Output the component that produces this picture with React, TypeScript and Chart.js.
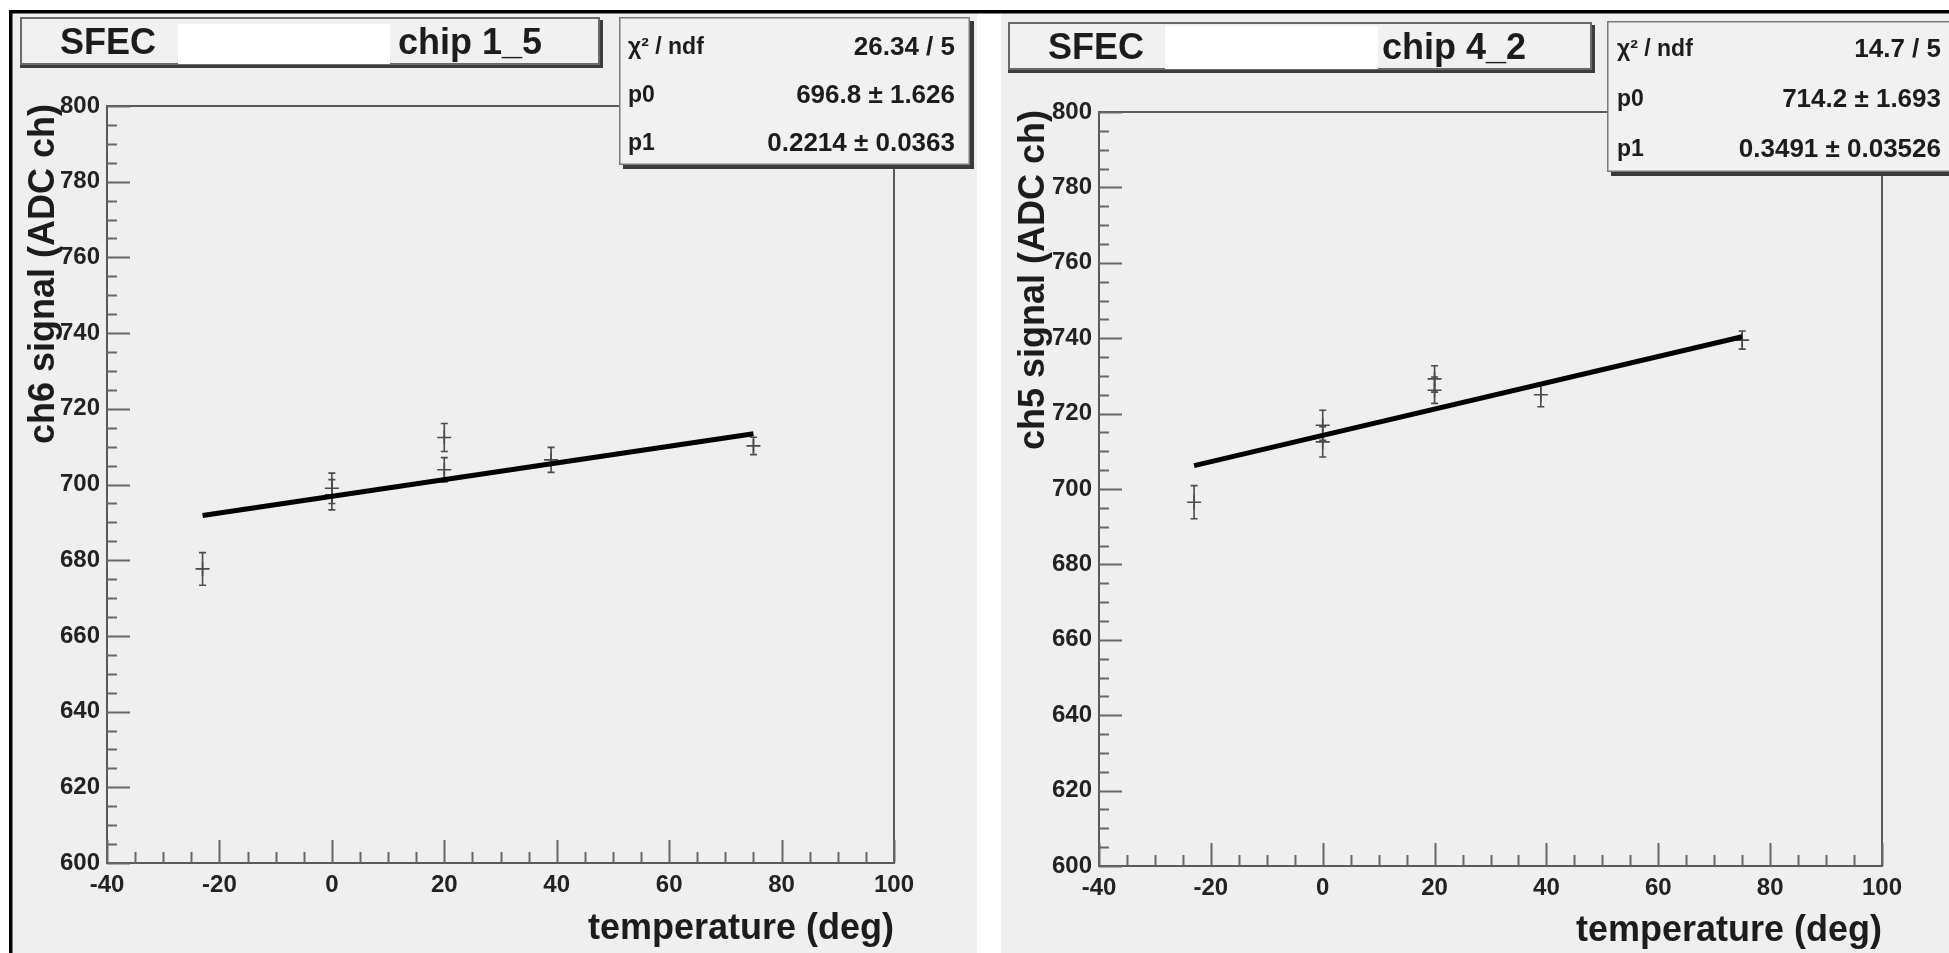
import React, { useEffect, useRef } from 'react';
import { Chart, registerables } from 'chart.js';

Chart.register(...registerables);

const FONT = "'Liberation Sans', Arial, Helvetica, sans-serif";
const H = 953;

// ---------- data ----------
const statLabels = ['χ² / ndf', 'p0', 'p1'];
const xTickValues = [-40, -20, 0, 20, 40, 60, 80, 100];
const yTickValues = [600, 620, 640, 660, 680, 700, 720, 740, 760, 780, 800];
const xMinorStep = 5;
const yMinorStep = 5;

// chip 1_5 (ch6)
const temps15 = [-23, 0, 0, 20, 20, 39, 75];
const signal15 = [677.7, 699.0, 697.3, 712.4, 703.9, 706.5, 710.2];
const sigErr15 = [4.3, 4.0, 4.0, 3.7, 3.2, 3.3, 2.3];
const fitT15 = [-23, 75];
const fitS15 = [691.8, 713.4];
const stats15 = ['26.34 / 5', '696.8 ± 1.626', '0.2214 ± 0.0363'];

// chip 4_2 (ch5)
const temps42 = [-23, 0, 0, 20, 20, 39, 75];
const signal42 = [696.5, 716.9, 712.5, 729.2, 726.2, 725.0, 739.5];
const sigErr42 = [4.4, 4.0, 4.0, 3.5, 3.5, 3.2, 2.4];
const fitT42 = [-23, 75];
const fitS42 = [706.2, 740.4];
const stats42 = ['14.7 / 5', '714.2 ± 1.693', '0.3491 ± 0.03526'];

// ---------- panel geometry / style ----------
const PANEL_BG = '#efefef';
const PLOT_BG = '#efefef';
const BOX_BG = '#f1f1f1';
const TEXT = '#1c1c1c';
const AXIS = '#5a5a5a';

type Panel = {
  key: string;
  offset: number;
  w: number;
  bgX0: number;
  bgX1: number;
  lineX0: number;
  leftBorder: boolean;
  plot: { left: number; top: number; right: number; bottom: number };
  titleBox: { x0: number; y0: number; x1: number; y1: number };
  redact: { x0: number; y0: number; x1: number; y1: number };
  sfecX: number;
  chipX: number;
  titleBase: number;
  chipText: string;
  statsBox: { x0: number; y0: number; x1: number; y1: number };
  statLabelX: number;
  statValueRight: number;
  statRows: number[];
  yTitle: string;
  yTitleX: number;
  yTitleEnd: number;
  xTitleBase: number;
  temps: number[];
  signal: number[];
  err: number[];
  fitT: number[];
  fitS: number[];
  stats: string[];
};

const panels: Panel[] = [
  {
    key: 'a', offset: 0, w: 990, bgX0: 12, bgX1: 977, lineX0: 9, leftBorder: true,
    plot: { left: 107, top: 106, right: 894, bottom: 863 },
    titleBox: { x0: 20, y0: 17, x1: 600, y1: 65 },
    redact: { x0: 178, y0: 24, x1: 390, y1: 64 },
    sfecX: 60, chipX: 398, titleBase: 54, chipText: 'chip 1_5',
    statsBox: { x0: 619, y0: 17, x1: 970, y1: 165 },
    statLabelX: 628, statValueRight: 955, statRows: [48, 96, 144],
    yTitle: 'ch6 signal (ADC ch)', yTitleX: 54, yTitleEnd: 104, xTitleBase: 939,
    temps: temps15, signal: signal15, err: sigErr15, fitT: fitT15, fitS: fitS15, stats: stats15,
  },
  {
    key: 'b', offset: 990, w: 959, bgX0: 11, bgX1: 959, lineX0: 0, leftBorder: false,
    plot: { left: 109, top: 112, right: 892, bottom: 866 },
    titleBox: { x0: 18, y0: 22, x1: 602, y1: 70 },
    redact: { x0: 175, y0: 26, x1: 388, y1: 69 },
    sfecX: 58, chipX: 392, titleBase: 59, chipText: 'chip 4_2',
    statsBox: { x0: 617, y0: 21, x1: 1000, y1: 172 },
    statLabelX: 627, statValueRight: 951, statRows: [50, 100, 150],
    yTitle: 'ch5 signal (ADC ch)', yTitleX: 54, yTitleEnd: 110, xTitleBase: 941,
    temps: temps42, signal: signal42, err: sigErr42, fitT: fitT42, fitS: fitS42, stats: stats42,
  },
];

function makePlugin(p: Panel) {
  return {
    id: 'rootPanel_' + p.key,
    beforeDraw(chart: any) {
      const ctx = chart.ctx as CanvasRenderingContext2D;
      ctx.save();
      ctx.fillStyle = '#ffffff';
      ctx.fillRect(0, 0, chart.width, chart.height);
      ctx.fillStyle = PANEL_BG;
      ctx.fillRect(p.bgX0, 13, p.bgX1 - p.bgX0, H - 13);
      ctx.fillStyle = '#000';
      ctx.fillRect(p.lineX0, 10, chart.width - p.lineX0, 3.5);
      if (p.leftBorder) ctx.fillRect(9, 10, 3.5, H - 10);
      const { left, right, top, bottom } = chart.chartArea;
      ctx.fillStyle = PLOT_BG;
      ctx.fillRect(left, top, right - left, bottom - top);
      ctx.restore();
    },
    beforeDatasetsDraw(chart: any) {
      const ctx = chart.ctx as CanvasRenderingContext2D;
      const xs = chart.scales.x;
      const ys = chart.scales.y;
      const { left, right, top, bottom } = chart.chartArea;
      ctx.save();
      // frame
      ctx.strokeStyle = AXIS;
      ctx.lineWidth = 2;
      ctx.strokeRect(left, top, right - left, bottom - top);
      // ticks
      ctx.strokeStyle = '#666';
      ctx.lineWidth = 2;
      const x0 = xTickValues[0], x1 = xTickValues[xTickValues.length - 1];
      for (let v = x0; v <= x1; v += xMinorStep) {
        const major = xTickValues.includes(v);
        const px = Math.round(xs.getPixelForValue(v)) + 0.5;
        ctx.beginPath();
        ctx.moveTo(px, bottom);
        ctx.lineTo(px, bottom - (major ? 23 : 11));
        ctx.stroke();
      }
      const y0 = yTickValues[0], y1 = yTickValues[yTickValues.length - 1];
      for (let v = y0; v <= y1; v += yMinorStep) {
        const major = yTickValues.includes(v);
        const py = Math.round(ys.getPixelForValue(v)) + 0.5;
        ctx.beginPath();
        ctx.moveTo(left, py);
        ctx.lineTo(left + (major ? 23 : 10), py);
        ctx.stroke();
      }
      // error bars
      ctx.strokeStyle = '#4a4a4a';
      ctx.lineWidth = 1.6;
      p.temps.forEach((t, i) => {
        const px = xs.getPixelForValue(t);
        const yTop = ys.getPixelForValue(p.signal[i] + p.err[i]);
        const yBot = ys.getPixelForValue(p.signal[i] - p.err[i]);
        ctx.beginPath();
        ctx.moveTo(px, yTop);
        ctx.lineTo(px, yBot);
        ctx.moveTo(px - 3.5, yTop);
        ctx.lineTo(px + 3.5, yTop);
        ctx.moveTo(px - 3.5, yBot);
        ctx.lineTo(px + 3.5, yBot);
        ctx.stroke();
      });
      // axis titles
      ctx.fillStyle = TEXT;
      ctx.font = `bold 36px ${FONT}`;
      ctx.textAlign = 'right';
      ctx.textBaseline = 'alphabetic';
      ctx.fillText('temperature (deg)', right, p.xTitleBase);
      ctx.save();
      ctx.translate(p.yTitleX, p.yTitleEnd);
      ctx.rotate(-Math.PI / 2);
      ctx.textAlign = 'right';
      ctx.fillText(p.yTitle, 0, 0);
      ctx.restore();
      ctx.restore();
    },
    afterDraw(chart: any) {
      const ctx = chart.ctx as CanvasRenderingContext2D;
      ctx.save();
      // title box
      const tb = p.titleBox;
      ctx.fillStyle = '#3c3c3c';
      ctx.fillRect(tb.x0, tb.y0 + 3, tb.x1 - tb.x0 + 3, tb.y1 - tb.y0);
      ctx.fillStyle = BOX_BG;
      ctx.fillRect(tb.x0, tb.y0, tb.x1 - tb.x0, tb.y1 - tb.y0);
      ctx.strokeStyle = '#6a6a6a';
      ctx.lineWidth = 2;
      ctx.strokeRect(tb.x0 + 1, tb.y0 + 1, tb.x1 - tb.x0 - 2, tb.y1 - tb.y0 - 2);
      ctx.fillStyle = TEXT;
      ctx.font = `bold 36px ${FONT}`;
      ctx.textAlign = 'left';
      ctx.textBaseline = 'alphabetic';
      ctx.fillText('SFEC', p.sfecX, p.titleBase);
      ctx.fillText(p.chipText, p.chipX, p.titleBase);
      const r = p.redact;
      ctx.fillStyle = '#ffffff';
      ctx.fillRect(r.x0, r.y0, r.x1 - r.x0, r.y1 - r.y0);
      // stats box
      const sb = p.statsBox;
      ctx.fillStyle = '#3a3a3a';
      ctx.fillRect(sb.x0 + 4, sb.y0 + 4, sb.x1 - sb.x0, sb.y1 - sb.y0);
      ctx.fillStyle = BOX_BG;
      ctx.fillRect(sb.x0, sb.y0, sb.x1 - sb.x0, sb.y1 - sb.y0);
      ctx.strokeStyle = '#7a7a7a';
      ctx.lineWidth = 1.5;
      ctx.strokeRect(sb.x0 + 0.75, sb.y0 + 0.75, sb.x1 - sb.x0 - 1.5, sb.y1 - sb.y0 - 1.5);
      ctx.fillStyle = TEXT;
      ctx.textBaseline = 'middle';
      p.statRows.forEach((yy, i) => {
        ctx.textAlign = 'left';
        ctx.font = `bold 23px ${FONT}`;
        ctx.fillText(statLabels[i], p.statLabelX, yy);
        ctx.textAlign = 'right';
        ctx.font = `bold 26px ${FONT}`;
        ctx.fillText(p.stats[i], p.statValueRight, yy);
      });
      ctx.restore();
    },
  };
}

function buildConfig(p: Panel): any {
  const pts = p.temps.map((t, i) => ({ x: t, y: p.signal[i] }));
  const fit = p.fitT.map((t, i) => ({ x: t, y: p.fitS[i] }));
  const tickFont = { family: FONT, size: 24, weight: 'bold' as const };
  return {
    type: 'scatter',
    data: {
      datasets: [
        {
          type: 'line', label: 'fit', data: fit, borderColor: '#000', borderWidth: 5,
          pointRadius: 0, fill: false, tension: 0, order: 0, clip: false,
        },
        {
          type: 'scatter', label: 'data', data: pts, pointStyle: 'cross', pointRadius: 7,
          borderWidth: 1.6, borderColor: '#4a4a4a', backgroundColor: '#4a4a4a', order: 1,
        },
      ],
    },
    options: {
      responsive: false,
      animation: false,
      events: [],
      layout: {
        padding: {
          top: p.plot.top,
          left: 0,
          right: p.w - p.plot.right,
          bottom: H - p.plot.bottom - 60,
        },
      },
      plugins: { legend: { display: false }, tooltip: { enabled: false }, title: { display: false } },
      scales: {
        x: {
          type: 'linear', position: 'bottom',
          min: xTickValues[0], max: xTickValues[xTickValues.length - 1],
          afterBuildTicks: (sc: any) => { sc.ticks = xTickValues.map((v) => ({ value: v })); },
          ticks: { padding: 8, color: '#222', font: tickFont, maxRotation: 0, autoSkip: false },
          grid: { display: false, drawTicks: false },
          border: { display: false },
          afterFit: (sc: any) => { sc.height = 60; },
        },
        y: {
          type: 'linear', position: 'left',
          min: yTickValues[0], max: yTickValues[yTickValues.length - 1],
          afterBuildTicks: (sc: any) => { sc.ticks = yTickValues.map((v) => ({ value: v })); },
          ticks: { padding: 7, color: '#222', font: tickFont, autoSkip: false },
          grid: { display: false, drawTicks: false },
          border: { display: false },
          afterFit: (sc: any) => { sc.width = p.plot.left; },
        },
      },
    },
    plugins: [makePlugin(p)],
  };
}

function PanelChart({ p }: { p: Panel }) {
  const ref = useRef<HTMLCanvasElement>(null);
  useEffect(() => {
    const chart = new Chart(ref.current!, buildConfig(p));
    return () => chart.destroy();
  }, [p]);
  return (
    <canvas
      ref={ref}
      width={p.w}
      height={H}
      style={{ position: 'absolute', left: p.offset, top: 0, width: p.w, height: H, display: 'block' }}
    />
  );
}

export default function App() {
  return (
    <div style={{ position: 'fixed', left: 0, top: 0, width: 1949, height: H, background: '#fff', overflow: 'hidden' }}>
      {panels.map((p) => (
        <PanelChart key={p.key} p={p} />
      ))}
    </div>
  );
}
